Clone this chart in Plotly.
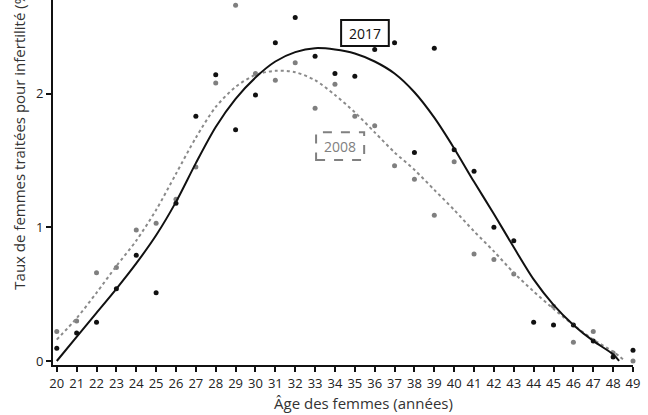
import plotly.graph_objects as go

ages = list(range(20, 50))
rate_2017 = [0.095, 0.21, 0.29, 0.54, 0.79, 0.51, 1.18, 1.83, 2.14, 1.73,
             1.99, 2.38, 2.57, 2.28, 2.15, 2.13, 2.33, 2.38, 1.56, 2.34,
             1.58, 1.42, 1.00, 0.90, 0.29, 0.27, 0.27, 0.15, 0.03, 0.08]
rate_2008 = [0.22, 0.30, 0.66, 0.70, 0.98, 1.03, 1.21, 1.45, 2.08, 2.66,
             2.15, 2.10, 2.23, 1.89, 2.07, 1.83, 1.76, 1.46, 1.36, 1.09,
             1.49, 0.80, 0.76, 0.65, None, 0.41, 0.14, 0.22, 0.06, 0.00]

fit_ages_2017 = list(range(20, 49)) + [48.3]
fit_2017 = [0.0, 0.18, 0.36, 0.54, 0.73, 0.94, 1.19, 1.48, 1.75, 1.96,
            2.12, 2.24, 2.31, 2.34, 2.33, 2.30, 2.24, 2.15, 2.01, 1.82,
            1.59, 1.34, 1.10, 0.85, 0.61, 0.42, 0.27, 0.15, 0.05, 0.0]
fit_ages_2008 = list(range(20, 49)) + [48.6]
fit_2008 = [0.16, 0.32, 0.51, 0.71, 0.90, 1.13, 1.40, 1.67, 1.90, 2.05,
            2.14, 2.17, 2.16, 2.10, 1.99, 1.86, 1.71, 1.56, 1.43, 1.28,
            1.13, 0.97, 0.82, 0.66, 0.52, 0.39, 0.27, 0.16, 0.07, 0.0]

x_ticks = list(range(20, 50))
y_ticks = [0, 1, 2]

FONT = "Open Sans"
fig = go.Figure()
fig.add_trace(go.Scatter(x=ages, y=rate_2008, mode="markers",
                         marker=dict(color="#7f7f7f", size=5), cliponaxis=False,
                         showlegend=False))
fig.add_trace(go.Scatter(x=ages, y=rate_2017, mode="markers",
                         marker=dict(color="#111111", size=5), cliponaxis=False,
                         showlegend=False))
fig.add_trace(go.Scatter(x=fit_ages_2008, y=fit_2008, mode="lines",
                         line=dict(color="#8a8a8a", width=2, dash="dot", shape="spline",
                                   smoothing=0.8),
                         showlegend=False))
fig.add_trace(go.Scatter(x=fit_ages_2017, y=fit_2017, mode="lines",
                         line=dict(color="#111111", width=2, shape="spline", smoothing=0.8),
                         showlegend=False))

fig.update_layout(
    width=648, height=415,
    margin=dict(l=53, r=15, t=0, b=50, autoexpand=False),
    paper_bgcolor="white", plot_bgcolor="white",
    font=dict(family=FONT, color="#222222"),
    shapes=[
        dict(type="rect", xref="x", yref="y", x0=34.31, x1=36.71, y0=2.356, y1=2.55,
             line=dict(color="#111111", width=2), fillcolor="white"),
        dict(type="rect", xref="x", yref="y", x0=33.05, x1=35.47, y0=1.503, y1=1.71,
             line=dict(color="#808080", width=2, dash="dash"), fillcolor="white"),
    ],
    annotations=[
        dict(x=35.51, y=2.453, xref="x", yref="y", text="2017", showarrow=False,
             font=dict(family=FONT, size=14, color="#111111")),
        dict(x=34.26, y=1.607, xref="x", yref="y", text="2008", showarrow=False,
             font=dict(family=FONT, size=14, color="#808080")),
        dict(x=(363 - 53) / 580, y=-0.105, xref="paper", yref="paper",
             text="Âge des femmes (années)",
             showarrow=False, font=dict(family=FONT, size=15, color="#333333"),
             xanchor="center", yanchor="middle"),
        dict(x=-0.06, y=0.2, xref="paper", yref="paper",
             text="Taux de femmes traitées pour infertilité (‰)", textangle=-90,
             showarrow=False, font=dict(family=FONT, size=15, color="#333333"),
             xanchor="center", yanchor="bottom"),
    ],
)

fig.update_xaxes(range=[19.81, 49.0], tickvals=x_ticks, ticktext=[str(t) for t in x_ticks],
                 showgrid=False, zeroline=False, showline=True, linecolor="#111111",
                 linewidth=2, ticks="outside", ticklen=5, tickwidth=1.5, automargin=False,
                 tickcolor="#111111", tickfont=dict(family=FONT, size=13, color="#222222"))
fig.update_yaxes(range=[-0.03, 2.70], tickvals=y_ticks, ticktext=[str(t) for t in y_ticks],
                 showgrid=False, zeroline=False, showline=True, linecolor="#111111",
                 linewidth=2, ticks="outside", ticklen=5, tickwidth=1.5, automargin=False,
                 tickcolor="#111111", tickfont=dict(family=FONT, size=13, color="#222222"))

fig.write_html("out.html", config={"displayModeBar": False},
               post_script="document.body.style.margin='0';document.body.style.overflow='hidden';")
